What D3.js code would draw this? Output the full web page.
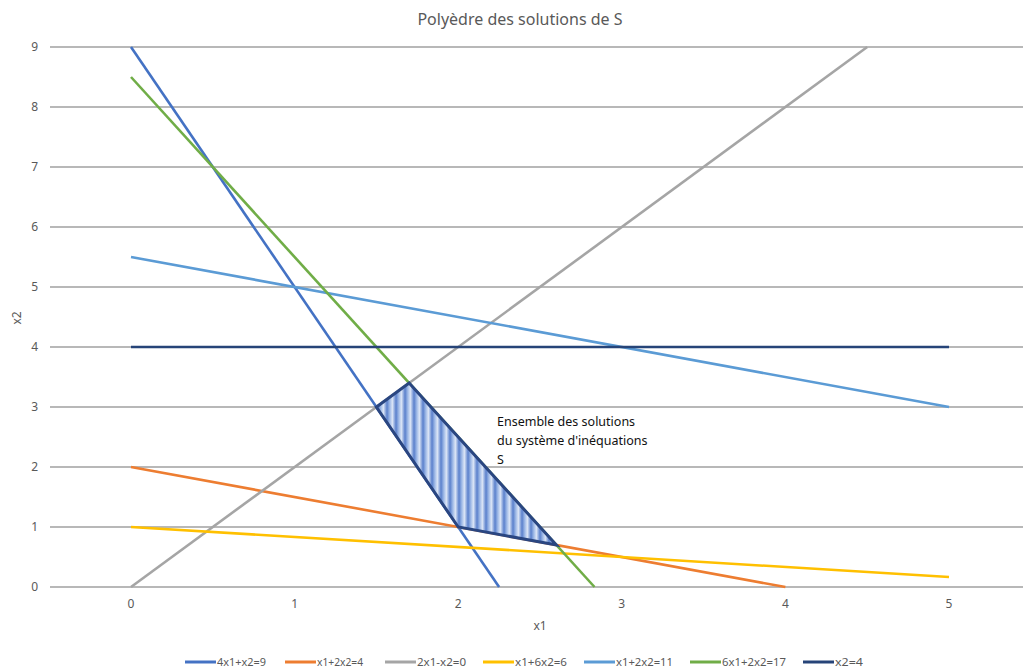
<!DOCTYPE html>
<html><head><meta charset="utf-8">
<script src="https://cdn.jsdelivr.net/npm/d3@7"></script>
<style>body{margin:0;background:#fff}svg{display:block}</style>
</head><body><svg id="c" width="1023" height="670"></svg>
<script>
const seriesNames = ["4x1+x2=9","x1+2x2=4","2x1-x2=0","x1+6x2=6","x1+2x2=11","6x1+2x2=17","x2=4"];
const seriesX = [[0,2.25],[0,4],[0,4.5],[0,5],[0,5],[0,2.8333],[0,5]];
const seriesY = [[9,0],[2,0],[0,9],[1,0.1667],[5.5,3],[8.5,0],[4,4]];
const seriesColors = ["#4472C4","#ED7D31","#A5A5A5","#FFC000","#5B9BD5","#70AD47","#264478"];
const polyX = [1.5,1.7,2.6,2.0];
const polyY = [3.0,3.4,0.7,1.0];
const xTicks = [0,1,2,3,4,5];
const yTicks = [0,1,2,3,4,5,6,7,8,9];
const annotation = ["Ensemble des solutions","du système d'inéquations","S"];

const svg = d3.select("#c");
const font = "'Noto Sans', sans-serif";
const x = d3.scaleLinear().domain([0,5]).range([131,949]);
const y = d3.scaleLinear().domain([0,9]).range([587,47]);

// gradient stripes
const defs = svg.append("defs");
const g = defs.append("linearGradient").attr("id","stripes")
  .attr("gradientUnits","userSpaceOnUse").attr("x1",0).attr("x2",9).attr("y1",0).attr("y2",0)
  .attr("spreadMethod","repeat");
g.append("stop").attr("offset",0).attr("stop-color","#5a80cc");
g.append("stop").attr("offset",0.3).attr("stop-color","#9db8e6");
g.append("stop").attr("offset",0.6).attr("stop-color","#dbe5f6");
g.append("stop").attr("offset",1).attr("stop-color","#5a80cc");

// title
svg.append("text").attr("x",520).attr("y",25).attr("text-anchor","middle")
  .attr("font-family",font).attr("font-size",16).attr("fill","#595959")
  .text("Polyèdre des solutions de S");

// grid
svg.append("g").selectAll("line").data(yTicks).join("line")
  .attr("x1",50).attr("x2",1023).attr("y1",d=>y(d)).attr("y2",d=>y(d))
  .attr("stroke","#a0a0a0").attr("stroke-width",1.3);

// y tick labels
svg.append("g").selectAll("text").data(yTicks).join("text")
  .attr("x",38).attr("y",d=>y(d)+4).attr("text-anchor","end")
  .attr("font-family",font).attr("font-size",12).attr("fill","#595959").text(d=>d);
// x tick labels
svg.append("g").selectAll("text").data(xTicks).join("text")
  .attr("x",d=>x(d)).attr("y",608).attr("text-anchor","middle")
  .attr("font-family",font).attr("font-size",12).attr("fill","#595959").text(d=>d);

// axis titles
svg.append("text").attr("x",540).attr("y",630).attr("text-anchor","middle")
  .attr("font-family",font).attr("font-size",12).attr("fill","#595959").text("x1");
svg.append("text").attr("transform","translate(21,318) rotate(-90)").attr("text-anchor","middle")
  .attr("font-family",font).attr("font-size",12).attr("fill","#595959").text("x2");

// series
const line = d3.line().x(d=>x(d[0])).y(d=>y(d[1]));
seriesNames.forEach((n,i)=>{
  const pts = seriesX[i].map((v,j)=>[v,seriesY[i][j]]);
  svg.append("path").attr("d",line(pts)).attr("fill","none")
    .attr("stroke",seriesColors[i]).attr("stroke-width",2.6);
});

// polygon
const poly = polyX.map((v,i)=>[x(v),y(polyY[i])]);
svg.append("polygon").attr("points",poly.map(p=>p.join(",")).join(" "))
  .attr("fill","url(#stripes)").attr("stroke","#2a4681").attr("stroke-width",3).attr("stroke-linejoin","miter");

// annotation
svg.append("g").selectAll("text").data(annotation).join("text")
  .attr("x",497).attr("y",(d,i)=>426+i*19)
  .attr("font-family",font).attr("font-size",12.5).attr("fill","#111").text(d=>d);

// legend
const legX = [185,285,385,483,584,690,803];
const leg = svg.append("g").selectAll("g").data(seriesNames).join("g")
  .attr("transform",(d,i)=>`translate(${legX[i]},662)`);
leg.append("line").attr("x1",0).attr("x2",31).attr("y1",0).attr("y2",0)
  .attr("stroke",(d,i)=>seriesColors[i]).attr("stroke-width",3);
leg.append("text").attr("x",32).attr("y",4).attr("font-family",font).attr("font-size",11)
  .attr("fill","#595959").attr("textLength",(d,i)=>[49,46,49,52,57,64,28][i]).attr("lengthAdjust","spacingAndGlyphs").text(d=>d);
</script></body></html>
